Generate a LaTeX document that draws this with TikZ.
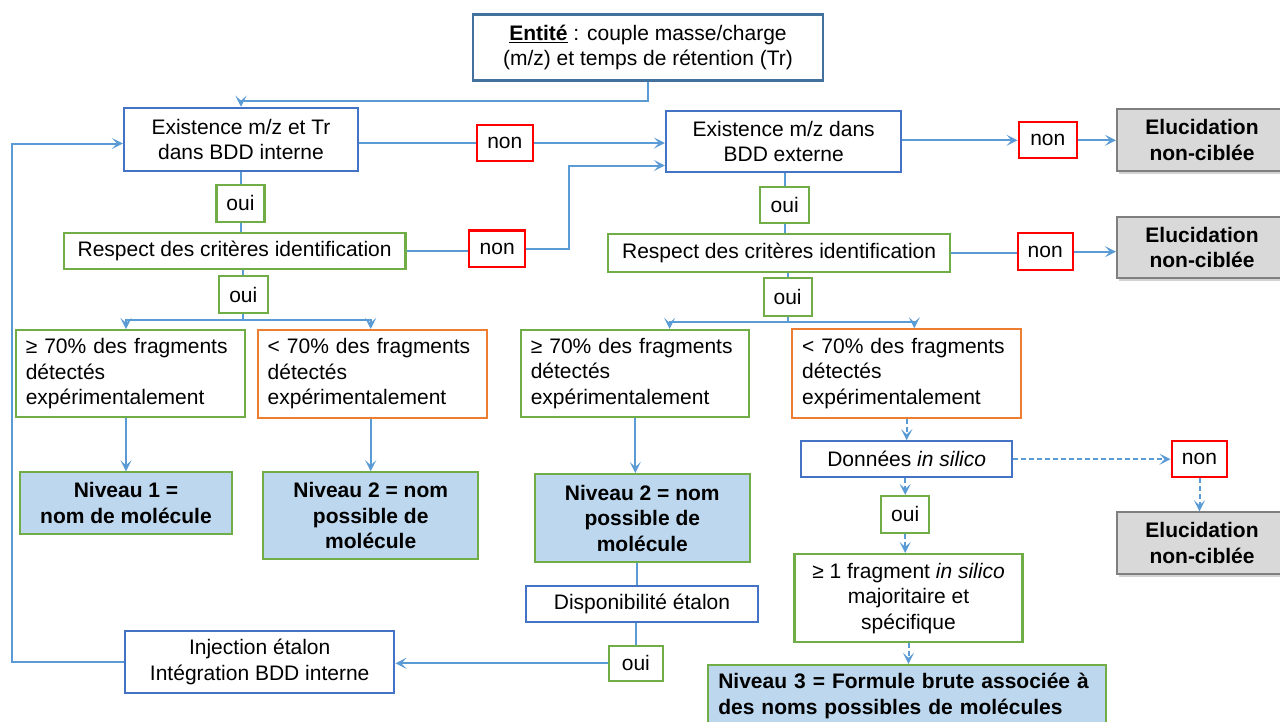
\documentclass[tikz,border=0pt]{standalone}
\usepackage{fontspec}
\setmainfont{Liberation Sans}
\usetikzlibrary{arrows.meta,shadows}
\definecolor{cconn}{HTML}{5B9BD5}
\definecolor{cblue}{HTML}{4472C4}
\definecolor{centite}{HTML}{41719C}
\definecolor{cgreen}{HTML}{70AD47}
\definecolor{cred}{HTML}{FF0000}
\definecolor{corange}{HTML}{ED7D31}
\definecolor{cfill}{HTML}{BDD7EE}
\definecolor{cgrayfill}{HTML}{D9D9D9}
\definecolor{cgrayb}{HTML}{7F7F7F}
\newcommand\myfs{\fontsize{21pt}{25.5pt}\selectfont}
\begin{document}
\begin{tikzpicture}[x=1pt,y=-1pt,
  box/.style={draw, line width=2.1pt, fill=white, inner sep=0pt, align=center, font=\myfs, text=black},
  bluebox/.style={box, draw=cblue},
  entbox/.style={box, draw=centite},
  greenbox/.style={box, draw=cgreen},
  redbox/.style={box, draw=cred},
  leftgreen/.style={box, draw=cgreen, align=left, text width=209pt},
  leftorange/.style={box, draw=corange, align=left, text width=209pt},
  levelbox/.style={box, draw=cgreen, fill=cfill, font=\myfs\bfseries},
  elubox/.style={box, draw=cgrayb, fill=cgrayfill, font=\myfs\bfseries,
     drop shadow={shadow xshift=2pt, shadow yshift=-3pt, opacity=0.35}},
  conn/.style={draw=cconn, line width=2pt},
  arr/.style={conn, -{Stealth[length=11pt,width=11pt,inset=5pt]}},
  darr/.style={arr, dash pattern=on 5pt off 3pt},
]
\useasboundingbox (0,0) rectangle (1280,721);
\fill[white] (0,0) rectangle (1280,721);
\begin{scope}
\clip (0,0) rectangle (1280,721);
% top
\node[entbox, minimum width=350pt, minimum height=66pt] (ent) at (648,47.5)
  {\underline{\textbf{Entité}} : couple masse/charge\\(m/z) et temps de rétention (Tr)};
% left column
\node[bluebox, minimum width=234pt, minimum height=63pt] (b1) at (241,139.3) {Existence m/z et Tr\\dans BDD interne};
\node[redbox, minimum width=55.5pt, minimum height=36.6pt] (non1) at (504.8,143) {non};
\node[greenbox, minimum width=48pt, minimum height=36.7pt] (oui1) at (240.5,203.3) {oui};
\node[greenbox, minimum width=341.8pt, minimum height=36pt] (r1) at (234.6,251.3) {Respect des critères identification};
\node[redbox, minimum width=56pt, minimum height=36.7pt] (non3) at (497.2,248.8) {non};
\node[greenbox, minimum width=48.6pt, minimum height=36.4pt] (oui2) at (243.3,294.5) {oui};
\node[leftgreen, minimum width=229.3pt, minimum height=87.3pt] (f1) at (130.3,373.7) {≥ 70\% des fragments\\détectés\\expérimentalement};
\node[leftorange, minimum width=229pt, minimum height=87.7pt] (f2) at (372.2,373.8) {< 70\% des fragments\\détectés\\expérimentalement};
\node[levelbox, minimum width=211.4pt, minimum height=61.7pt] (n1) at (126,503.2) {Niveau 1 =\\nom de molécule};
\node[levelbox, minimum width=215.3pt, minimum height=87pt] (n2a) at (370.7,515.8) {Niveau 2 = nom\\possible de\\molécule};
\node[bluebox, minimum width=269.3pt, minimum height=61.7pt] (inj) at (259.7,661.8) {Injection étalon\\Intégration BDD interne};
% right column
\node[bluebox, minimum width=235.4pt, minimum height=61.6pt] (b2) at (783.7,141.5) {Existence m/z dans\\BDD externe};
\node[redbox, minimum width=58.5pt, minimum height=36pt] (non2) at (1047.8,140.3) {non};
\node[elubox, minimum width=170pt, minimum height=61.7pt] (el1) at (1202,139.8) {Elucidation\\non-ciblée};
\node[greenbox, minimum width=48.6pt, minimum height=36.6pt] (ouiB) at (784.7,205) {oui};
\node[greenbox, minimum width=342.6pt, minimum height=37.4pt] (r2) at (779.1,253) {Respect des critères identification};
\node[redbox, minimum width=55pt, minimum height=36.7pt] (non4) at (1045.2,251.7) {non};
\node[elubox, minimum width=170pt, minimum height=61.6pt] (el2) at (1202,247.5) {Elucidation\\non-ciblée};
\node[greenbox, minimum width=48pt, minimum height=37.4pt] (ouiC) at (787.6,297) {oui};
\node[leftgreen, minimum width=228pt, minimum height=86.7pt] (f3) at (635.3,373.3) {≥ 70\% des fragments\\détectés\\expérimentalement};
\node[leftorange, minimum width=229.4pt, minimum height=88.4pt] (f4) at (906.7,373.5) {< 70\% des fragments\\détectés\\expérimentalement};
\node[levelbox, minimum width=215pt, minimum height=88.3pt] (n2b) at (642.3,518.2) {Niveau 2 = nom\\possible de\\molécule};
\node[bluebox, minimum width=232.3pt, minimum height=36pt] (disp) at (642,603.7) {Disponibilité étalon};
\node[greenbox, minimum width=53.7pt, minimum height=35.3pt] (ouiD) at (635.9,663.3) {oui};
\node[bluebox, minimum width=211.4pt, minimum height=35.7pt] (don) at (906.7,459.2) {Données \textit{in silico}};
\node[redbox, minimum width=55.8pt, minimum height=36.3pt] (non5) at (1199.5,459.2) {non};
\node[elubox, minimum width=170pt, minimum height=61.7pt] (el3) at (1202,543.2) {Elucidation\\non-ciblée};
\node[greenbox, minimum width=48.4pt, minimum height=36.7pt] (ouiE) at (905.2,514.3) {oui};
\node[greenbox, minimum width=228pt, minimum height=88.3pt] (frag) at (908.5,598.2) {≥ 1 fragment \textit{in silico}\\majoritaire et\\spécifique};
\node[levelbox, align=left, text width=377pt, minimum width=398.5pt, minimum height=61.7pt] (n3) at (906.8,695.8) {Niveau 3 = Formule brute associée à\\des noms possibles de molécules};
% connectors
\draw[arr] (ent.south) -- ++(0,19) -| (b1.north);
\draw[conn] (b1.east |- non1.west) -- (non1.west);
\draw[arr] (non1.east) -- (non1.east -| b2.west);
\draw[arr] (b2.east |- non2.west) -- (non2.west);
\draw[arr] (non2.east) -- (non2.east -| el1.west);
\draw[conn] (oui1.north |- b1.south) -- (oui1.north);
\draw[conn] (oui1.south) -- (oui1.south |- r1.north);
\draw[conn] (r1.east) -- (r1.east -| non3.west);
\coordinate (k1) at (569,165.5);
\draw[arr] (non3.east) -| (k1) -- (k1 -| b2.west);
\draw[conn] (oui2.north |- r1.south) -- (oui2.north);
\coordinate (j1) at (243.3,320);
\draw[conn] (oui2.south) -- (j1);
\draw[arr] (j1) -| (n1.north |- f1.north);
\draw[arr] (j1) -| (n2a.north |- f2.north);
\draw[arr] (f1.south -| n1.north) -- (n1.north);
\draw[arr] (f2.south -| n2a.north) -- (n2a.north);
\draw[conn] (ouiB.north |- b2.south) -- (ouiB.north);
\draw[conn] (ouiB.south) -- (ouiB.south |- r2.north);
\draw[conn] (r2.east) -- (r2.east -| non4.west);
\draw[arr] (non4.east) -- (non4.east -| el2.west);
\draw[conn] (ouiC.north |- r2.south) -- (ouiC.north);
\coordinate (j2) at (791.9,321.7);
\draw[conn] (ouiC.south) -- (ouiC.south |- j2);
\draw[arr] (j2) -| ([xshift=34.3pt]f3.north);
\draw[arr] (j2) -| ([xshift=7.6pt]f4.north);
\draw[arr] (f3.south) -- (f3.south |- n2b.north);
\draw[conn] ([xshift=-5pt]n2b.south) -- ([xshift=-5pt]n2b.south |- disp.north);
\draw[conn] (ouiD.north |- disp.south) -- (ouiD.north);
\draw[arr] (ouiD.west) -- (ouiD.west -| inj.east);
\coordinate (lp) at (11.7,143.5);
\draw[arr] (inj.west) -| (lp) -- (lp -| b1.west);
\draw[darr] (f4.south) -- (don.north);
\draw[darr] (don.east |- non5.west) -- (non5.west);
\draw[darr] (non5.south) -- (non5.south |- el3.north);
\draw[darr] (ouiE.north |- don.south) -- (ouiE.north);
\draw[darr] (ouiE.south) -- (ouiE.south |- frag.north);
\draw[darr] (frag.south) -- (frag.south |- n3.north);
\end{scope}
\end{tikzpicture}
\end{document}
